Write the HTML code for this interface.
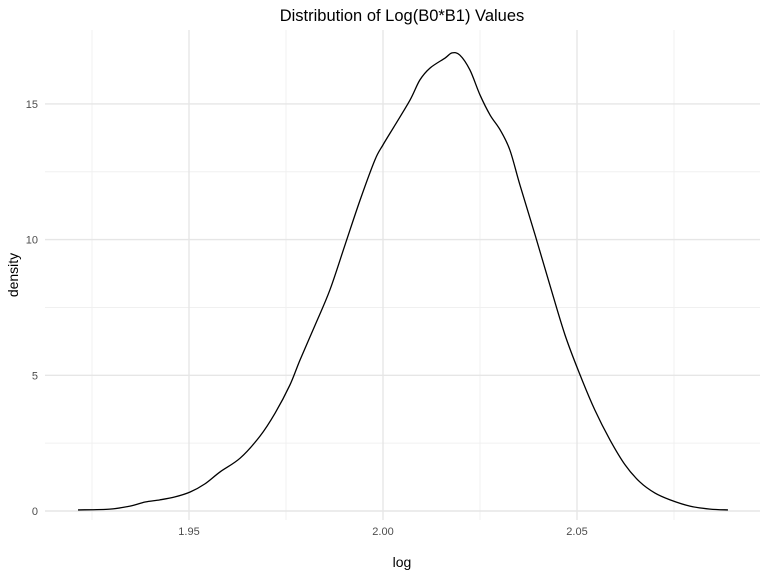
<!DOCTYPE html>
<html><head><meta charset="utf-8"><style>
body{margin:0;background:#fff;}
svg text{font-family:"Liberation Sans",sans-serif;}
</style></head><body>
<svg id="chart" width="768" height="576" xmlns="http://www.w3.org/2000/svg">
<rect width="768" height="576" fill="#fff"/>
<g id="grid"></g>
<g id="axes"></g>
<path id="curve" fill="none" stroke="#000" stroke-width="1.3"/>
<text x="402" y="21" text-anchor="middle" font-size="16.5" fill="#000">Distribution of Log(B0*B1) Values</text>
<text x="402" y="567" text-anchor="middle" font-size="14" fill="#000">log</text>
<text transform="translate(18,275) rotate(-90)" text-anchor="middle" font-size="14" fill="#000">density</text>
</svg>
<script>
const xVals=[1.9214,1.9296,1.9348,1.9387,1.9425,1.9464,1.9503,1.9541,1.9580,1.9632,1.9683,1.9722,1.9760,1.9786,1.9825,1.9863,1.9902,1.9941,1.9979,2.0000,2.0031,2.0070,2.0095,2.0121,2.0160,2.0178,2.0198,2.0224,2.0250,2.0276,2.0302,2.0327,2.0353,2.0392,2.0430,2.0469,2.0508,2.0546,2.0585,2.0624,2.0662,2.0701,2.0740,2.0791,2.0843,2.0889];
const yVals=[0.04,0.07,0.18,0.33,0.41,0.52,0.70,1.00,1.44,1.95,2.76,3.61,4.64,5.56,6.85,8.14,9.80,11.46,12.93,13.49,14.22,15.15,15.88,16.32,16.69,16.88,16.80,16.25,15.33,14.59,14.04,13.30,12.01,10.17,8.33,6.49,5.01,3.72,2.62,1.70,1.07,0.66,0.41,0.18,0.07,0.04];
const xTicks=[1.95,2.00,2.05];
const xTickLabels=["1.95","2.00","2.05"];
const xMinor=[1.925,1.975,2.025,2.075];
const yTicks=[0,5,10,15];
const yTickLabels=["0","5","10","15"];
const yMinor=[2.5,7.5,12.5];
const X=v=>383+(v-2.0)*3880;
const Y=v=>511-v*27.14;
const NS="http://www.w3.org/2000/svg";
const grid=document.getElementById('grid'),axes=document.getElementById('axes');
function line(x1,y1,x2,y2,c,w,name){const l=document.createElementNS(NS,'line');
l.setAttribute('x1',x1);l.setAttribute('y1',y1);l.setAttribute('x2',x2);l.setAttribute('y2',y2);
l.setAttribute('stroke',c);l.setAttribute('stroke-width',w);


grid.appendChild(l);}
const L=45,R=760,T=30,B=520;
xMinor.forEach(v=>line(X(v),T,X(v),B,'#f0f0f0',1,'x-minor-gridline'));
yMinor.forEach(v=>line(L,Y(v),R,Y(v),'#f0f0f0',1,'y-minor-gridline'));
xTicks.forEach(v=>line(X(v),T,X(v),B,'#e6e6e6',1.4,'x-major-gridline'));
yTicks.forEach(v=>line(L,Y(v),R,Y(v),'#e6e6e6',1.4,'y-major-gridline'));
function txt(x,y,s,anchor,name){const t=document.createElementNS(NS,'text');
t.setAttribute('x',x);t.setAttribute('y',y);t.setAttribute('text-anchor',anchor);
t.setAttribute('font-size','11');t.setAttribute('fill','#4d4d4d');t.textContent=s;


axes.appendChild(t);}
xTicks.forEach((v,i)=>txt(X(v),535,xTickLabels[i],'middle','x-tick-label'));
yTicks.forEach((v,i)=>txt(38,Y(v)+4,yTickLabels[i],'end','y-tick-label'));
const P=xVals.map((v,i)=>[X(v),Y(yVals[i])]);
let d='M'+P[0][0]+','+P[0][1];
for(let i=0;i<P.length-1;i++){const p0=P[Math.max(0,i-1)],p1=P[i],p2=P[i+1],p3=P[Math.min(P.length-1,i+2)];
const c1=[p1[0]+(p2[0]-p0[0])/6,p1[1]+(p2[1]-p0[1])/6],c2=[p2[0]-(p3[0]-p1[0])/6,p2[1]-(p3[1]-p1[1])/6];
d+=' C'+c1[0]+','+c1[1]+' '+c2[0]+','+c2[1]+' '+p2[0]+','+p2[1];}
document.getElementById('curve').setAttribute('d',d);
</script>
</body></html>
